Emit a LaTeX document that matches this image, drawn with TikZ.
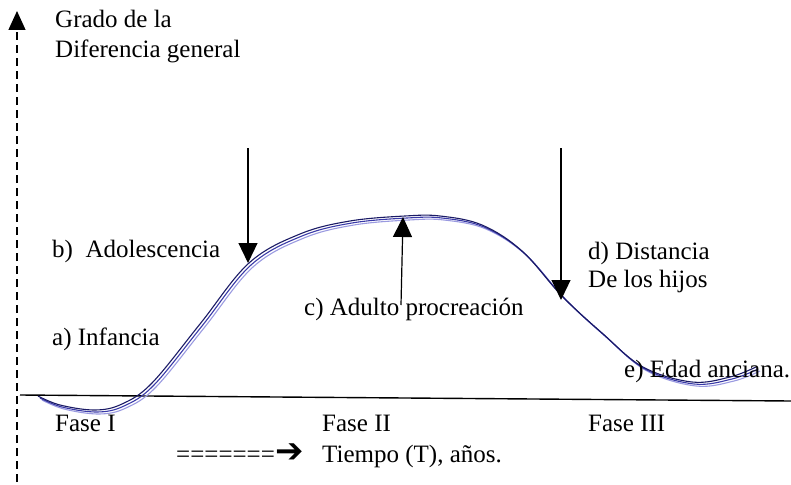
\documentclass[tikz,border=0pt]{standalone}
\usepackage{fontspec}
\setmainfont{Liberation Serif}
\newfontfamily\symfont{DejaVu Sans}
\usepackage{xcolor}
\usetikzlibrary{arrows.meta}

\definecolor{navy}{HTML}{1B1B66}
\definecolor{midblue}{HTML}{3A3AA8}
\definecolor{paleblue}{HTML}{9A9AE0}

\begin{document}
\begin{tikzpicture}[x=1pt, y=-1pt,
  every node/.style={inner sep=0pt, anchor=base west, font=\fontsize{25}{29}\selectfont},
  axis/.style={line width=1.4pt},
  mark arrow/.style={line width=1.2pt, -{Triangle[width=19pt,length=20pt]}},
  curve/.style={line width=1.1pt, smooth, tension=0.6}]
  \useasboundingbox (0,0) rectangle (791,484);

  % axes
  \coordinate (ybot) at (17,482);
  \coordinate (ytop) at (17,11);
  \coordinate (xleft) at (20,395);
  \coordinate (xright) at (791,401);
  \draw[axis, dash pattern=on 8pt off 5pt, -{Triangle[width=17pt,length=19pt]}] (ybot) -- (ytop);
  \draw[axis] (xleft) -- (xright);

  % curve (three strokes)
  \foreach \s/\c in {4/paleblue, 2/midblue, 0/navy}
    \draw[curve, draw=\c, shift={(\s,\s)}] plot coordinates {(38,396) (60,405) (95,410) (122,404) (152,383) (200,324) (249,263) (300,234) (350,221) (405,216) (440,216) (482,225) (522,251) (562,296) (602,333) (643,367) (692,382) (730,377) (756,367)};

  % labels
  \node (grado) at (55,28) {Grado de la};
  \node (dif) at (55,58) {Diferencia general};
  \node (adol) at (52,257) {b)\ \ Adolescencia};
  \node (inf) at (52,345) {a) Infancia};
  \node (adulto) at (304,315) {c) Adulto procreación};
  \node (dist) at (588,259) {d) Distancia};
  \node (hijos) at (588,287) {De los hijos};
  \node (anc) at (624,377) {e) Edad anciana.};
  \node (f1) at (55,431) {Fase I};
  \node (f2) at (322,431) {Fase II};
  \node (f3) at (588,431) {Fase III};
  \node (eq) at (176,462) {=======\kern1pt{\symfont\bfseries\fontsize{34}{34}\selectfont ➔}};
  \node (tiempo) at (322,462) {Tiempo (T), años.};

  % arrows to the curve
  \coordinate (b0) at (248,148);
  \coordinate (b1) at (248,263);
  \coordinate (c0) at (401,305);
  \coordinate (c1) at (403,217);
  \coordinate (d0) at (561,148);
  \coordinate (d1) at (561,300);
  \draw[mark arrow] (b0) -- (b1);
  \draw[mark arrow] (c0) -- (c1);
  \draw[mark arrow] (d0) -- (d1);

\end{tikzpicture}
\end{document}
